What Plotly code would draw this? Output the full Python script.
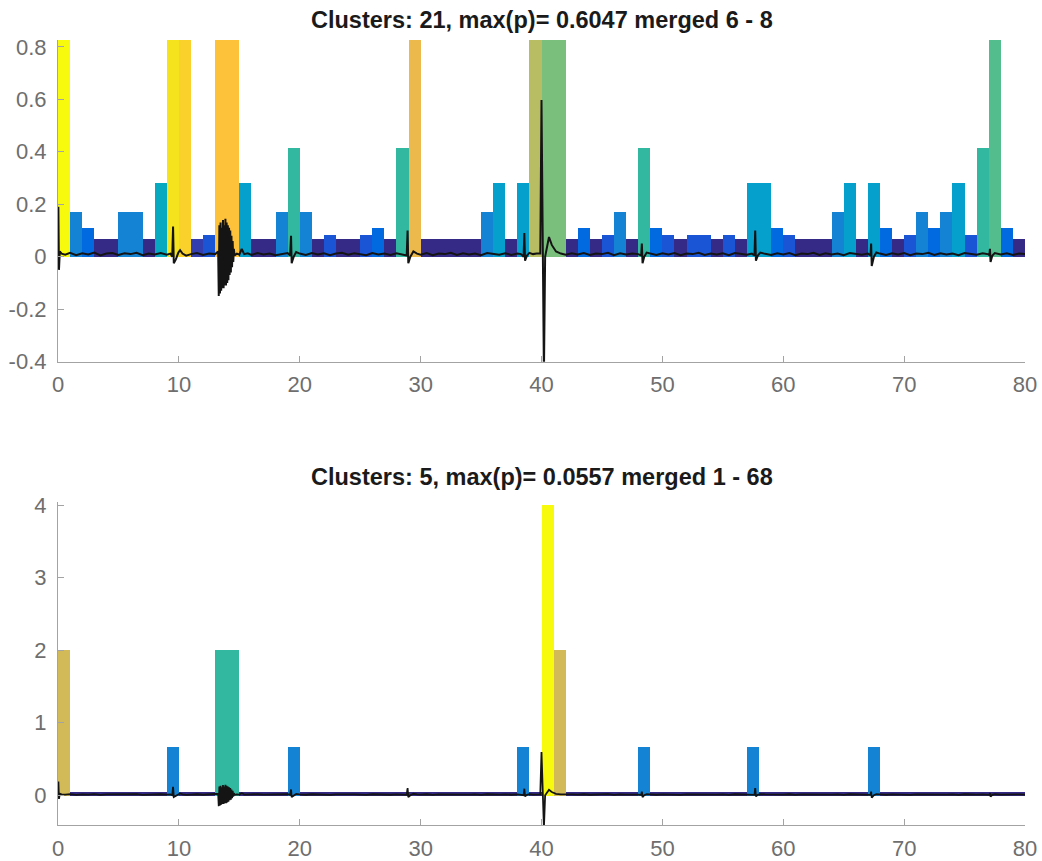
import plotly.graph_objects as go

# MATLAB parula colormap (64 entries, RGB in 0..1)
PARULA = [
    (0.2081, 0.1663, 0.5292), (0.2116, 0.1898, 0.5777), (0.2123, 0.2138, 0.6270), (0.2081, 0.2386, 0.6771),
    (0.1959, 0.2645, 0.7279), (0.1707, 0.2919, 0.7792), (0.1253, 0.3242, 0.8303), (0.0591, 0.3598, 0.8683),
    (0.0117, 0.3875, 0.8820), (0.0060, 0.4086, 0.8828), (0.0165, 0.4266, 0.8786), (0.0329, 0.4430, 0.8720),
    (0.0498, 0.4586, 0.8641), (0.0629, 0.4737, 0.8554), (0.0723, 0.4887, 0.8467), (0.0779, 0.5040, 0.8384),
    (0.0793, 0.5200, 0.8312), (0.0749, 0.5375, 0.8263), (0.0641, 0.5570, 0.8240), (0.0488, 0.5772, 0.8228),
    (0.0343, 0.5966, 0.8199), (0.0265, 0.6137, 0.8135), (0.0239, 0.6287, 0.8038), (0.0231, 0.6418, 0.7913),
    (0.0228, 0.6535, 0.7768), (0.0267, 0.6642, 0.7607), (0.0384, 0.6743, 0.7436), (0.0590, 0.6838, 0.7254),
    (0.0843, 0.6928, 0.7062), (0.1133, 0.7015, 0.6859), (0.1453, 0.7098, 0.6646), (0.1801, 0.7177, 0.6424),
    (0.2178, 0.7250, 0.6193), (0.2586, 0.7317, 0.5954), (0.3022, 0.7376, 0.5712), (0.3482, 0.7424, 0.5473),
    (0.3953, 0.7459, 0.5244), (0.4420, 0.7481, 0.5033), (0.4871, 0.7491, 0.4840), (0.5300, 0.7491, 0.4661),
    (0.5709, 0.7485, 0.4494), (0.6099, 0.7473, 0.4337), (0.6473, 0.7456, 0.4188), (0.6834, 0.7435, 0.4044),
    (0.7184, 0.7411, 0.3905), (0.7525, 0.7384, 0.3768), (0.7858, 0.7356, 0.3633), (0.8185, 0.7327, 0.3498),
    (0.8507, 0.7299, 0.3360), (0.8824, 0.7274, 0.3217), (0.9139, 0.7258, 0.3063), (0.9450, 0.7261, 0.2886),
    (0.9739, 0.7314, 0.2666), (0.9938, 0.7455, 0.2403), (0.9990, 0.7653, 0.2164), (0.9955, 0.7861, 0.1967),
    (0.9880, 0.8066, 0.1794), (0.9789, 0.8271, 0.1633), (0.9697, 0.8481, 0.1475), (0.9626, 0.8705, 0.1309),
    (0.9589, 0.8949, 0.1132), (0.9598, 0.9218, 0.0948), (0.9661, 0.9514, 0.0755), (0.9763, 0.9831, 0.0538),
]
parula_scale = [[i / 63, "rgb(%d,%d,%d)" % (r * 255, g * 255, b * 255)] for i, (r, g, b) in enumerate(PARULA)]

# Time bins (1 s each, left edges)
bins = list(range(80))

# Upper panel: per-bin score and cluster label (21 clusters)
p_top = [
    1.0, 0.171, 0.108, 0.066, 0.066, 0.171, 0.171, 0.066, 0.282, 1.0,
    1.0, 0.066, 0.083, 1.0, 1.0, 0.282, 0.066, 0.066, 0.171, 0.415,
    0.171, 0.066, 0.083, 0.066, 0.066, 0.083, 0.108, 0.066, 0.415, 1.0,
    0.066, 0.066, 0.066, 0.066, 0.066, 0.171, 0.282, 0.066, 0.282, 1.0,
    1.0, 1.0, 0.066, 0.108, 0.066, 0.083, 0.171, 0.066, 0.415, 0.108,
    0.083, 0.066, 0.083, 0.083, 0.066, 0.083, 0.066, 0.282, 0.282, 0.108,
    0.083, 0.066, 0.066, 0.066, 0.171, 0.282, 0.066, 0.282, 0.108, 0.066,
    0.083, 0.171, 0.108, 0.171, 0.282, 0.083, 0.415, 1.0, 0.108, 0.066,
]
cluster_top = [
    20, 5, 3, 0, 0, 5, 5, 0, 8, 19,
    18, 1, 2, 17, 17, 7, 0, 0, 5, 10,
    5, 0, 2, 0, 0, 2, 3, 0, 10, 16,
    0, 0, 0, 0, 0, 5, 7, 0, 7, 14,
    12, 12, 0, 3, 0, 2, 5, 0, 10, 3,
    2, 0, 2, 2, 0, 2, 0, 7, 7, 3,
    2, 0, 0, 0, 5, 7, 0, 7, 3, 0,
    2, 5, 3, 5, 7, 2, 10, 11, 3, 0,
]

# Lower panel: per-bin score and cluster label (5 clusters)
p_bottom = [
    2.0, 0.05, 0.05, 0.05, 0.05, 0.05, 0.05, 0.05, 0.05, 0.67,
    0.05, 0.05, 0.05, 2.0, 2.0, 0.05, 0.05, 0.05, 0.05, 0.67,
    0.05, 0.05, 0.05, 0.05, 0.05, 0.05, 0.05, 0.05, 0.05, 0.05,
    0.05, 0.05, 0.05, 0.05, 0.05, 0.05, 0.05, 0.05, 0.67, 0.05,
    4.0, 2.0, 0.05, 0.05, 0.05, 0.05, 0.05, 0.05, 0.67, 0.05,
    0.05, 0.05, 0.05, 0.05, 0.05, 0.05, 0.05, 0.67, 0.05, 0.05,
    0.05, 0.05, 0.05, 0.05, 0.05, 0.05, 0.05, 0.67, 0.05, 0.05,
    0.05, 0.05, 0.05, 0.05, 0.05, 0.05, 0.05, 0.05, 0.05, 0.05,
]
cluster_bottom = [
    3, 0, 0, 0, 0, 0, 0, 0, 0, 1,
    0, 0, 0, 2, 2, 0, 0, 0, 0, 1,
    0, 0, 0, 0, 0, 0, 0, 0, 0, 0,
    0, 0, 0, 0, 0, 0, 0, 0, 1, 0,
    4, 3, 0, 0, 0, 0, 0, 0, 1, 0,
    0, 0, 0, 0, 0, 0, 0, 1, 0, 0,
    0, 0, 0, 0, 0, 0, 0, 1, 0, 0,
    0, 0, 0, 0, 0, 0, 0, 0, 0, 0,
]

# Recorded signal (time in s, amplitude)
sig_t = [
    0.0, 0.03, 0.08, 0.15, 0.3, 0.6, 1.0, 1.5, 2.0, 2.5, 3.0, 3.5, 4.0, 4.5, 5.0, 5.5, 6.0, 6.5, 7.0, 7.5,
    8.0, 8.5, 9.0, 9.3, 9.45, 9.52, 9.58, 9.75, 9.95, 10.1, 10.3, 10.6, 11.0, 11.5, 12.0, 12.5, 13.0, 13.25,
    13.3, 13.35, 13.4, 13.45, 13.5, 13.55, 13.6, 13.65, 13.7, 13.75, 13.8, 13.85, 13.9, 13.95, 14.0, 14.05,
    14.1, 14.15, 14.2, 14.25, 14.3, 14.35, 14.4, 14.45, 14.5, 14.55, 14.6,
    14.8, 15.0, 15.2, 15.4, 15.7, 16.0, 16.5, 17.0, 17.5, 18.0, 18.5, 19.0, 19.2, 19.28, 19.33, 19.5, 19.7,
    20.0, 20.5, 21.0, 21.5, 22.0, 22.5, 23.0, 23.5, 24.0, 24.5, 25.0, 25.5, 26.0, 26.5, 27.0, 27.5, 28.0,
    28.5, 28.85, 28.92, 28.98, 29.15, 29.4, 29.7, 30.0, 30.5, 31.0, 31.5, 32.0, 32.5, 33.0, 33.5, 34.0,
    34.5, 35.0, 35.5, 36.0, 36.5, 37.0, 37.5, 38.0, 38.3, 38.52, 38.58, 38.64, 38.8, 39.0, 39.3, 39.6, 39.9,
    40.0, 40.08, 40.2, 40.3, 40.45, 40.62, 40.85, 41.2, 41.6,
    42.0, 42.5, 43.0, 43.5, 44.0, 44.5, 45.0, 45.5, 46.0, 46.5, 47.0, 47.5, 48.0, 48.25, 48.3, 48.36, 48.5,
    48.7, 49.0, 49.5, 50.0, 50.5, 51.0, 51.5, 52.0, 52.5, 53.0, 53.5, 54.0, 54.5, 55.0, 55.5, 56.0, 56.5,
    57.0, 57.4, 57.62, 57.68, 57.74, 57.9, 58.1, 58.5, 59.0, 59.5, 60.0, 60.5, 61.0, 61.5, 62.0, 62.5, 63.0,
    63.5, 64.0, 64.5, 65.0, 65.5, 66.0, 66.5, 67.0, 67.22, 67.27, 67.32, 67.5, 67.7, 68.0, 68.5, 69.0, 69.5,
    70.0, 70.5, 71.0, 71.5, 72.0, 72.5, 73.0, 73.5, 74.0, 74.5, 75.0, 75.5, 76.0, 76.5, 77.0, 77.05, 77.1,
    77.15, 77.3, 77.5, 78.0, 78.5, 79.0, 79.5, 80.0,
]
sig_v = [
    -0.01, 0.19, -0.05, 0.02, 0.012, 0.008, 0.015, 0.006, 0.013, 0.009, 0.016, 0.005, 0.012, 0.014, 0.007, 0.013, 0.010, 0.015, 0.006, 0.012,
    0.009, 0.014, 0.008, 0.012, 0.0, 0.115, -0.025, -0.01, 0.015, 0.025, 0.012, 0.004, 0.010, 0.014, 0.007, 0.012, 0.010, 0.02,
    -0.15, 0.12, -0.14, 0.13, -0.13, 0.11, -0.12, 0.14, -0.12, 0.12, -0.11, 0.145, -0.11, 0.13, -0.10, 0.12,
    -0.09, 0.11, -0.07, 0.10, -0.06, 0.08, -0.04, 0.06, -0.02, 0.03, 0.005,
    0.012, 0.008, 0.03, 0.01, 0.013, 0.007, 0.014, 0.009, 0.012, 0.006, 0.011, 0.014, 0.005, 0.08, -0.025, 0.0, 0.018,
    0.012, 0.007, 0.014, 0.009, 0.013, 0.006, 0.012, 0.015, 0.008, 0.013, 0.010, 0.006, 0.014, 0.009, 0.012, 0.007, 0.013,
    0.009, 0.005, 0.10, -0.025, 0.0, 0.02, 0.012, 0.008, 0.014, 0.006, 0.012, 0.010, 0.015, 0.007, 0.013, 0.009,
    0.012, 0.006, 0.014, 0.010, 0.008, 0.013, 0.007, 0.012, 0.010, 0.0, 0.09, -0.015, 0.005, 0.015, 0.010, 0.012, 0.012,
    0.597, 0.0, -0.45, 0.0, 0.03, 0.075, 0.045, 0.02, 0.012,
    0.008, 0.013, 0.009, 0.014, 0.007, 0.012, 0.010, 0.015, 0.006, 0.013, 0.009, 0.012, 0.010, 0.005, 0.05, -0.025, 0.0,
    0.016, 0.012, 0.007, 0.013, 0.009, 0.014, 0.006, 0.012, 0.010, 0.015, 0.007, 0.012, 0.009, 0.013, 0.006, 0.014, 0.010,
    0.008, 0.012, 0.005, 0.10, -0.015, 0.005, 0.016, 0.011, 0.007, 0.013, 0.009, 0.014, 0.006, 0.012, 0.010, 0.015, 0.007,
    0.013, 0.009, 0.012, 0.006, 0.014, 0.010, 0.008, 0.012, 0.005, 0.05, -0.035, 0.0, 0.016, 0.012, 0.007, 0.013, 0.009,
    0.014, 0.006, 0.012, 0.010, 0.015, 0.007, 0.013, 0.009, 0.012, 0.006, 0.014, 0.010, 0.008, 0.013, 0.009, 0.005, 0.03,
    -0.02, 0.005, 0.014, 0.009, 0.013, 0.007, 0.012, 0.010,
]

titles = [
    "Clusters: 21, max(p)= 0.6047 merged 6 - 8",
    "Clusters: 5, max(p)= 0.0557 merged 1 - 68",
]

FONT = "Liberation Sans, Arial, Helvetica, sans-serif"
AXIS_GRAY = "#a3a3a3"
LABEL_GRAY = "#6e6e6e"

centers = [b + 0.5 for b in bins]

fig = go.Figure()

fig.add_trace(go.Bar(
    x=centers, y=p_top, width=1.0, xaxis="x", yaxis="y",
    marker=dict(color=cluster_top, colorscale=parula_scale, cmin=0, cmax=20, line=dict(width=0)),
    showlegend=False,
))
fig.add_trace(go.Scatter(
    x=sig_t, y=sig_v, mode="lines", xaxis="x", yaxis="y",
    line=dict(color="#141414", width=2.0), showlegend=False,
))
fig.add_trace(go.Bar(
    x=centers, y=p_bottom, width=1.0, xaxis="x2", yaxis="y2",
    marker=dict(color=cluster_bottom, colorscale=parula_scale, cmin=0, cmax=4, line=dict(width=0)),
    showlegend=False,
))
fig.add_trace(go.Scatter(
    x=sig_t, y=sig_v, mode="lines", xaxis="x2", yaxis="y2",
    line=dict(color="#141414", width=1.8), showlegend=False,
))

axis_common = dict(
    showline=True, linecolor=AXIS_GRAY, linewidth=1.2, mirror=False,
    ticks="inside", ticklen=6, tickcolor=AXIS_GRAY, tickwidth=1.2,
    showgrid=False, zeroline=False, automargin=False,
    tickfont=dict(family=FONT, size=22, color=LABEL_GRAY),
)

xticks = [0, 10, 20, 30, 40, 50, 60, 70, 80]

fig.update_layout(
    width=1042, height=861,
    margin=dict(l=58, r=17, t=40, b=36),
    paper_bgcolor="white", plot_bgcolor="white",
    bargap=0,
    xaxis=dict(range=[0, 80], domain=[0, 1], anchor="y", tickvals=xticks,
               ticklabelstandoff=3, **axis_common),
    yaxis=dict(range=[-0.4, 0.826], domain=[0.5902, 1.0], anchor="x",
               tickvals=[-0.4, -0.2, 0, 0.2, 0.4, 0.6, 0.8],
               ticktext=["-0.4", "-0.2", "0", "0.2", "0.4", "0.6", "0.8"],
               ticklabelstandoff=6, **axis_common),
    xaxis2=dict(range=[0, 80], domain=[0, 1], anchor="y2", tickvals=xticks,
                ticklabelstandoff=3, **axis_common),
    yaxis2=dict(range=[-0.41, 4.045], domain=[0.0, 0.4118], anchor="x2",
                tickvals=[0, 1, 2, 3, 4], ticktext=["0", "1", "2", "3", "4"],
                ticklabelstandoff=6, **axis_common),
    annotations=[
        dict(text="<b>%s</b>" % titles[0], x=0.5, y=1.0255, xref="paper", yref="paper",
             xanchor="center", yanchor="middle", showarrow=False,
             font=dict(family=FONT, size=23.5, color="#1a1a1a")),
        dict(text="<b>%s</b>" % titles[1], x=0.5, y=0.4433, xref="paper", yref="paper",
             xanchor="center", yanchor="middle", showarrow=False,
             font=dict(family=FONT, size=23.5, color="#1a1a1a")),
    ],
)

fig.write_html("out.html")
